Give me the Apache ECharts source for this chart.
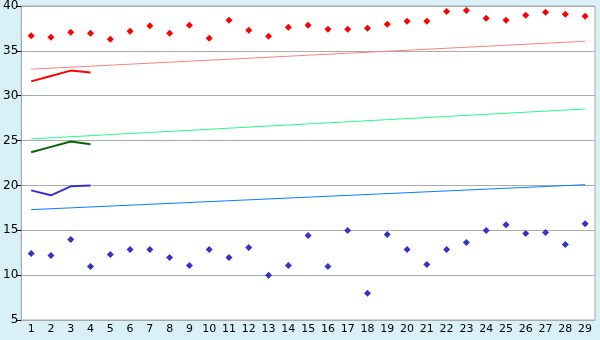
<!DOCTYPE html>
<html><head><meta charset="utf-8">
<script src="https://cdn.jsdelivr.net/npm/echarts@6/dist/echarts.min.js"></script>
<style>html,body{margin:0;padding:0;background:#daf0f7;}#c{width:600px;height:340px;}</style>
</head><body><div id="c"></div>
<script>
var categories = ['1','2','3','4','5','6','7','8','9','10','11','12','13','14','15','16','17','18','19','20','21','22','23','24','25','26','27','28','29'];
var yTicks = [5, 40, 5];
var highPoints = [36.67,36.52,37.07,36.96,36.3,37.19,37.81,36.96,37.85,36.41,38.4,37.3,36.63,37.63,37.85,37.41,37.41,37.52,37.96,38.3,38.3,39.4,39.5,38.63,38.4,38.96,39.3,39.07,38.85];
var lowPoints = [12.41,12.19,13.96,10.96,12.3,12.85,12.85,11.96,11.07,12.85,11.96,13.07,10.0,11.07,14.41,10.96,14.97,7.97,14.52,12.85,11.19,12.85,13.63,14.97,15.63,14.63,14.74,13.41,15.74];
var redLine = [31.6,32.2,32.8,32.6];
var greenLine = [23.7,24.3,24.9,24.6];
var blueLine = [19.45,18.9,19.9,20.0];
var redTrend = [32.96,36.07];
var greenTrend = [25.19,28.52];
var blueTrend = [17.3,20.08];

function trend(v){ return [[categories[0], v[0]], [categories[categories.length-1], v[1]]]; }

var chart = echarts.init(document.getElementById('c'));
var font = {fontFamily:'DejaVu Sans', fontSize:11, color:'#000'};
chart.setOption({
  animation:false,
  backgroundColor:'#daf0f7',
  grid:{left:20,right:5,top:5,bottom:20,show:true,backgroundColor:'#fff',borderColor:'#aaa',borderWidth:1},
  xAxis:{type:'category',data:categories,boundaryGap:true,
    axisLine:{lineStyle:{color:'#aaa'}},
    axisTick:{alignWithLabel:true,length:5,lineStyle:{color:'#000'}},
    axisLabel:Object.assign({margin:4,interval:0},font),
    splitLine:{show:false}},
  yAxis:{type:'value',min:yTicks[0],max:yTicks[1],interval:yTicks[2],
    axisLine:{show:true,lineStyle:{color:'#aaa'}},
    axisTick:{show:true,length:5,lineStyle:{color:'#000'}},
    axisLabel:Object.assign({margin:3},font,{fontSize:12}),
    splitLine:{lineStyle:{color:'#aaa'}}},
  series:[
    {type:'line',data:trend(redTrend),symbol:'none',lineStyle:{color:'#ff8080',width:1},z:2},
    {type:'line',data:trend(greenTrend),symbol:'none',lineStyle:{color:'#22ff88',width:1},z:2},
    {type:'line',data:trend(blueTrend),symbol:'none',lineStyle:{color:'#0a7cff',width:1},z:2},
    {type:'line',data:redLine,symbol:'none',lineStyle:{color:'#ff0000',width:2},z:3},
    {type:'line',data:greenLine,symbol:'none',lineStyle:{color:'#006600',width:2},z:3},
    {type:'line',data:blueLine,symbol:'none',lineStyle:{color:'#3333cc',width:2},z:3},
    {type:'scatter',data:highPoints,symbol:'diamond',symbolSize:7,itemStyle:{color:'#ff0000',opacity:1},z:4},
    {type:'scatter',data:lowPoints,symbol:'diamond',symbolSize:7,itemStyle:{color:'#3333cc',opacity:1},z:4}
  ]
});
</script></body></html>
